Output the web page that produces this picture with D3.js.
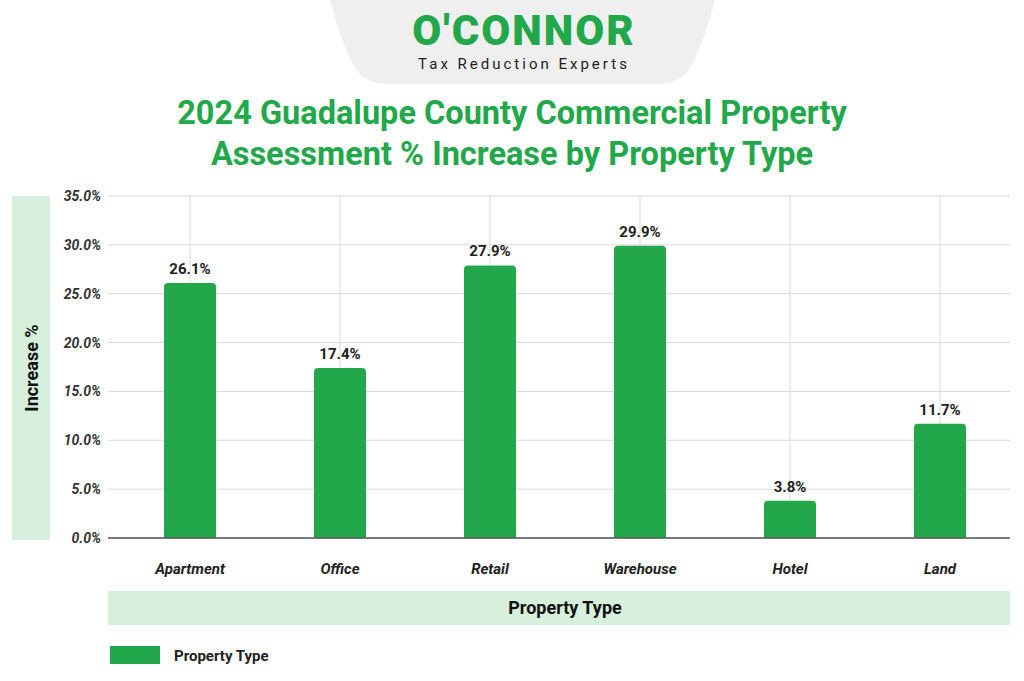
<!DOCTYPE html>
<html><head><meta charset="utf-8">
<script src="https://cdn.jsdelivr.net/npm/d3@7"></script>
<style>body{margin:0;background:#fff;font-family:Roboto,"Noto Sans",sans-serif}</style>
</head><body><svg id="c" width="1024" height="681"></svg>
<script>
const categories=["Apartment","Office","Retail","Warehouse","Hotel","Land"];
const values=[26.1,17.4,27.9,29.9,3.8,11.7];
const yTicks=[0,5,10,15,20,25,30,35];
const green="#22a84a", light="#d6f0dc";
const svg=d3.select("#c");
svg.append("path").attr("d","M330,0 L715,0 Q705,40 690,68 Q680,84 655,84 L390,84 Q365,84 355,68 Q340,40 330,0Z").attr("fill","#efefef");
svg.append("text").attr("x",524).attr("y",45).attr("text-anchor","middle").attr("font-size",42).attr("font-weight",900).attr("letter-spacing",2).attr("fill",green).attr("font-family","Roboto").text("O'CONNOR");
svg.append("text").attr("x",524).attr("y",69).attr("text-anchor","middle").attr("font-size",15).attr("letter-spacing",3).attr("fill","#222").text("Tax Reduction Experts");
svg.append("text").attr("x",512).attr("y",124).attr("text-anchor","middle").attr("font-size",32.5).attr("font-weight",700).attr("fill",green).text("2024 Guadalupe County Commercial Property");
svg.append("text").attr("x",512).attr("y",165).attr("text-anchor","middle").attr("font-size",32.5).attr("font-weight",700).attr("fill",green).text("Assessment % Increase by Property Type");
const x=d3.scaleBand().domain(categories).range([115,1015]);
const y=d3.scaleLinear().domain([0,35]).range([538,196]);
const g=svg.append("g");
g.selectAll(".h").data(yTicks).join("line").attr("x1",108).attr("x2",1010).attr("y1",d=>y(d)).attr("y2",d=>y(d)).attr("stroke","#d9d9d9");
g.selectAll(".v").data(categories).join("line").attr("x1",d=>x(d)+x.bandwidth()/2).attr("x2",d=>x(d)+x.bandwidth()/2).attr("y1",196).attr("y2",538).attr("stroke","#d9d9d9");
g.selectAll(".yt").data(yTicks).join("text").attr("x",101).attr("y",d=>y(d)+5).attr("text-anchor","end").attr("font-size",14).attr("font-weight",700).attr("font-style","italic").attr("fill","#333").text(d=>d.toFixed(1)+"%");
const bw=52;
g.selectAll(".b").data(values).join("path").attr("fill",green).attr("d",(d,i)=>{const cx=x(categories[i])+x.bandwidth()/2,x0=cx-bw/2,t=y(d),b=y(0),r=4;return `M${x0},${b}V${t+r}Q${x0},${t} ${x0+r},${t}H${x0+bw-r}Q${x0+bw},${t} ${x0+bw},${t+r}V${b}Z`;});
g.selectAll(".l").data(values).join("text").attr("x",(d,i)=>x(categories[i])+x.bandwidth()/2).attr("y",d=>y(d)-9).attr("text-anchor","middle").attr("font-size",15).attr("font-weight",700).attr("fill","#222").text(d=>d.toFixed(1)+"%");
g.append("line").attr("x1",108).attr("x2",1010).attr("y1",538).attr("y2",538).attr("stroke","#555").attr("stroke-width",1.5);
g.selectAll(".xt").data(categories).join("text").attr("x",d=>x(d)+x.bandwidth()/2).attr("y",574).attr("text-anchor","middle").attr("font-size",15).attr("font-weight",700).attr("font-style","italic").attr("fill","#222").text(d=>d);
svg.append("rect").attr("x",12).attr("y",196).attr("width",38).attr("height",344).attr("fill",light);
svg.append("text").attr("transform","translate(38,368) rotate(-90)").attr("text-anchor","middle").attr("font-size",18).attr("font-weight",700).attr("fill","#111").text("Increase %");
svg.append("rect").attr("x",108).attr("y",591).attr("width",902).attr("height",34).attr("fill",light);
svg.append("text").attr("x",565).attr("y",614).attr("text-anchor","middle").attr("font-size",18).attr("font-weight",700).attr("fill","#111").text("Property Type");
svg.append("rect").attr("x",110).attr("y",646).attr("width",50).attr("height",18).attr("fill",green);
svg.append("text").attr("x",174).attr("y",661).attr("font-size",15).attr("font-weight",700).attr("fill","#222").text("Property Type");
</script></body></html>
